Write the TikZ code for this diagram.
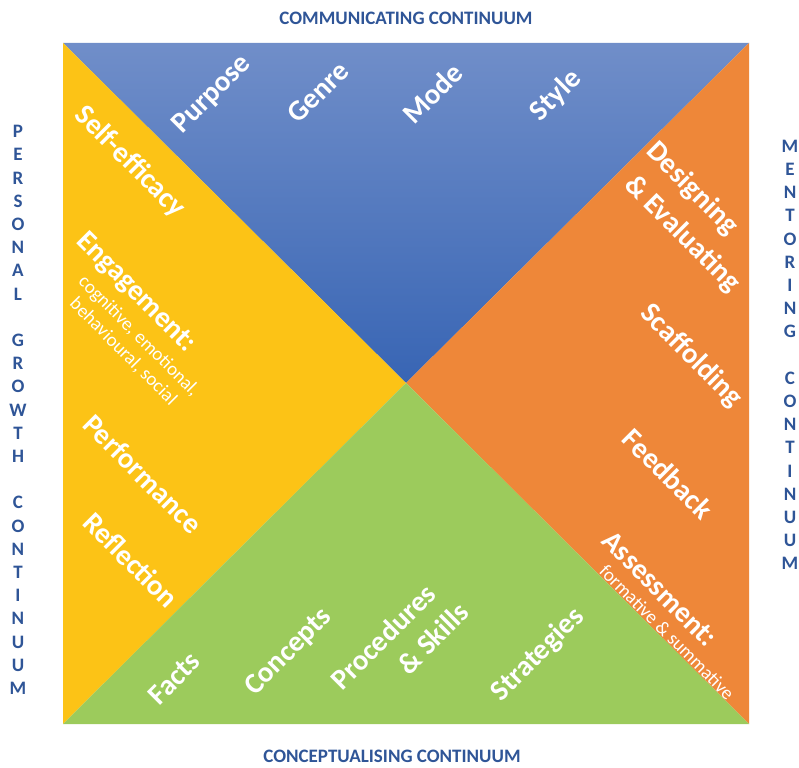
\documentclass[tikz,border=0pt]{standalone}
\usepackage{fontspec}
\setmainfont{Carlito}
\usetikzlibrary{positioning}

\definecolor{titleblue}{RGB}{47,85,151}
\definecolor{topblue}{RGB}{112,142,201}
\definecolor{midblue}{RGB}{56,101,180}
\definecolor{goldyellow}{RGB}{252,195,22}
\definecolor{warmorange}{RGB}{238,135,57}
\definecolor{leafgreen}{RGB}{156,203,92}

\tikzset{
  bigword/.style={text=white, font=\fontsize{29}{33}\selectfont\bfseries, inner sep=0pt},
  smallword/.style={text=white, font=\fontsize{19}{22}\selectfont, inner sep=0pt, align=center},
  continuum/.style={text=titleblue, font=\fontsize{19}{22}\selectfont\bfseries, inner sep=0pt},
  letters/.style={text=titleblue, font=\fontsize{19}{23.2}\selectfont\bfseries, inner sep=0pt, align=center}
}

\begin{document}
\begin{tikzpicture}[x=1pt,y=-1pt]
      \useasboundingbox (0,0) rectangle (799,767);

      % Define square corners and centre
      \coordinate (TL) at (63,43);
      \coordinate (TR) at (749,43);
      \coordinate (BR) at (749,724);
      \coordinate (BL) at (63,724);
      \coordinate (O) at (406,383);

      % Draw the four triangles
      \shade[top color=topblue, bottom color=midblue] (TL) -- (TR) -- (O) -- cycle;
      \fill[goldyellow] (TL) -- (O) -- (BL) -- cycle;
      \fill[warmorange] (TR) -- (BR) -- (O) -- cycle;
      \fill[leafgreen] (BL) -- (O) -- (BR) -- cycle;

      % Continuum titles
      \node[continuum] (comm) at (406,18) {COMMUNICATING CONTINUUM};
      \node[continuum] (concept) at (392,756) {CONCEPTUALISING CONTINUUM};
      \node[letters] (personal) at (18,410) {P\\E\\R\\S\\O\\N\\A\\L\\[23.2pt]G\\R\\O\\W\\T\\H\\[23.2pt]C\\O\\N\\T\\I\\N\\U\\U\\M};
      \node[letters] (mentor) at (790,355) {M\\E\\N\\T\\O\\R\\I\\N\\G\\[23.2pt]C\\O\\N\\T\\I\\N\\U\\U\\M};

      % Communicating (top)
      \node[bigword, rotate=45] (purpose) at (212,95) {Purpose};
      \node[bigword, rotate=45] (genre) at (318,92) {Genre};
      \node[bigword, rotate=45] (mode) at (433,93) {Mode};
      \node[bigword, rotate=45] (style) at (556,96) {Style};

      % Personal growth (left)
      \node[bigword, rotate=-45] (selfeff) at (130,162) {Self-efficacy};
      \node[bigword, rotate=-45] (engage) at (136,293) {Engagement:};
      \node[smallword, rotate=-45] (engagesub) at (131,344) {cognitive, emotional,\\behavioural, social};
      \node[bigword, rotate=-45] (perform) at (143,474) {Performance};
      \node[bigword, rotate=-45] (reflect) at (131,560) {Reflection};

      % Conceptualising (bottom)
      \node[bigword, rotate=45] (facts) at (174,678) {Facts};
      \node[bigword, rotate=45] (concepts) at (289,652) {Concepts};
      \node[bigword, rotate=45] (proced) at (383,637) {Procedures};
      \node[bigword, rotate=45] (skills) at (433,638) {\& Skills};
      \node[bigword, rotate=45] (strat) at (538,655) {Strategies};

      % Mentoring (right)
      \node[bigword, rotate=-45] (design) at (692,189) {Designing};
      \node[bigword, rotate=-45] (evaluate) at (682,234) {\& Evaluating};
      \node[bigword, rotate=-45] (scaffold) at (691,356) {Scaffolding};
      \node[bigword, rotate=-45] (feedback) at (668,474) {Feedback};
      \node[bigword, rotate=-45] (assess) at (660,589) {Assessment:};
      \node[smallword, rotate=-45] (assesssub) at (667,632) {formative \& summative};
    \end{tikzpicture}
\end{document}
